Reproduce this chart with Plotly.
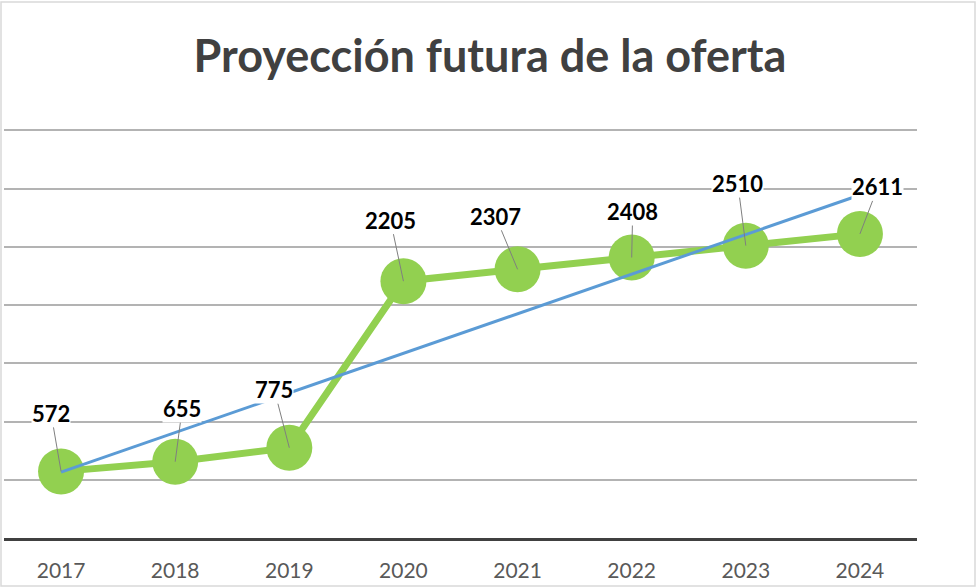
import numpy as np
import plotly.graph_objects as go

years = ["2017", "2018", "2019", "2020", "2021", "2022", "2023", "2024"]
oferta = [572, 655, 775, 2205, 2307, 2408, 2510, 2611]
label_dx = [-10, 7, -15, -13, -22, 1, -8, 18]
label_dy = [-58, -53, -58, -61, -53, -46, -62, -47]

W, H = 977, 588
YMAX = 3520
plot_px = 408 * YMAX / 3500
L, R, B = 4, 60, 50
T = round(H - B - plot_px)

idx = np.arange(len(years))
slope, intercept = np.polyfit(idx, oferta, 1)
trend = [float(intercept), float(intercept + slope * (len(years) - 1))]

fig = go.Figure()
fig.add_trace(go.Scatter(
    x=years, y=oferta, mode="lines+markers",
    line=dict(color="#92d050", width=7),
    marker=dict(color="#92d050", size=46),
    hoverinfo="skip", showlegend=False,
))
fig.add_trace(go.Scatter(
    x=[years[0], years[-1]], y=trend, mode="lines",
    line=dict(color="#5b9bd5", width=3),
    hoverinfo="skip", showlegend=False,
))

for i, (v, dx, dy) in enumerate(zip(oferta, label_dx, label_dy)):
    fig.add_annotation(
        x=i, y=v, xref="x", yref="y", text="<b>" + str(v) + "</b>",
        showarrow=True, ax=dx, ay=dy,
        arrowhead=0, arrowwidth=1, arrowcolor="#7f7f7f",
        font=dict(family="Lato", size=22, color="#000000"),
        bgcolor="#ffffff", borderpad=0,
    )

pw = W - L - R
ph = H - T - B
fig.add_shape(type="rect", xref="paper", yref="paper",
              x0=(1 - L) / pw, x1=(975 - L) / pw,
              y0=-(586 - (H - B)) / ph, y1=((H - B) - 2) / ph,
              line=dict(color="#d9d9d9", width=1.5), layer="below")

fig.update_layout(
    width=W, height=H,
    margin=dict(l=L, r=R, t=T, b=B),
    paper_bgcolor="white", plot_bgcolor="white",
    title=dict(text="<b>Proyección futura de la oferta</b>",
               x=490 / W, xanchor="center", y=1 - 56 / H, yanchor="middle",
               font=dict(family="Lato", size=45, color="#404040")),
    xaxis=dict(type="category", showgrid=False, showline=True,
               linecolor="#404040", linewidth=3, ticks="",
               ticklabelstandoff=12,
               tickfont=dict(family="Lato", size=21, color="#595959"),
               range=[-0.5, len(years) - 0.5], fixedrange=True),
    yaxis=dict(range=[0, YMAX], tickvals=[500, 1000, 1500, 2000, 2500, 3000, 3500],
               showticklabels=False,
               showgrid=True, gridcolor="#b3b3b3", gridwidth=1.5,
               zeroline=False, fixedrange=True),
)

fig.write_html("out.html", config={"displayModeBar": False},
               post_script="document.body.style.margin='0px';document.body.style.overflow='hidden';")
